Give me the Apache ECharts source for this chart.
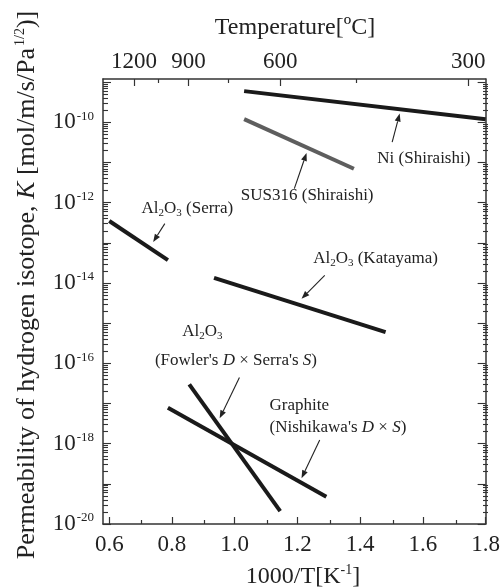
<!DOCTYPE html>
<html>
<head>
<meta charset="utf-8">
<script src="https://cdn.jsdelivr.net/npm/echarts@6/dist/echarts.min.js"></script>
<style>
  html, body { margin: 0; padding: 0; background: #fff; }
  #chart { width: 503px; height: 588px; }
</style>
</head>
<body>
<div id="chart"></div>
<script>
// x = 1000/T [1/K], K = permeability [mol/m/s/Pa^1/2]
const niX = [1.03, 1.8];
const niK = [6.0e-10, 1.2e-10];
const susX = [1.03, 1.38];
const susK = [1.2e-10, 7.0e-12];
const serraX = [0.60, 0.787];
const serraK = [3.5e-13, 3.7e-14];
const katayamaX = [0.934, 1.481];
const katayamaK = [1.35e-14, 6.0e-16];
const fowlerX = [0.855, 1.145];
const fowlerK = [3.0e-17, 2.1e-20];
const graphiteX = [0.787, 1.292];
const graphiteK = [7.8e-18, 4.8e-20];

// axes
const xMin = 0.58, xMax = 1.8;
const yMin = -20, yMax = -8.92;           // log10(K)
const xMajor = [0.6, 0.8, 1.0, 1.2, 1.4, 1.6, 1.8];
const xMinor = [0.7, 0.9, 1.1, 1.3, 1.5, 1.7];
const tempMajor = [1200, 900, 600, 300];  // degC
const tempMinor = [1050, 750, 450];
const yLabels = [-20, -18, -16, -14, -12, -10];
const yDecades = [-20, -19, -18, -17, -16, -15, -14, -13, -12, -11, -10, -9];

// annotations (data coords: x, log10 K)
const labelText = [
  'Al{s|2}O{s|3} (Serra)',
  'Al{s|2}O{s|3} (Katayama)',
  'Ni (Shiraishi)',
  'SUS316 (Shiraishi)',
  'Al{s|2}O{s|3}',
  "(Fowler's {i|D} × Serra's {i|S})",
  'Graphite',
  "(Nishikawa's {i|D} × {i|S})"
];
const labelPos = [[0.849, -12.14], [1.449, -13.38], [1.603, -10.90], [1.231, -11.82],
                  [0.833, -15.20], [1.004, -15.92], [1.111, -17.04], [1.111, -17.61]];
const labelAlign = ['center', 'center', 'center', 'center', 'left', 'center', 'left', 'left'];
const arrowFrom = [[0.777, -12.52], [1.287, -13.81], [1.502, -10.49], [1.190, -11.65], [1.015, -16.35], [1.271, -17.91]];
const arrowTo = [[0.740, -12.98], [1.213, -14.39], [1.526, -9.78], [1.229, -10.76], [0.952, -17.37], [1.213, -18.86]];

const FONT = '"Liberation Serif", "DejaVu Serif", serif';
const INK = '#222';
const AXIS = '#333';

const toX = t => 1000 / (t + 273.15);
// log-spaced minor ticks (2..9 within each decade)
const yMinorVals = [];
yDecades.forEach(d => {
  for (let k = 2; k <= 9; k++) {
    const v = d + Math.log10(k);
    if (v < yMax) yMinorVals.push(v);
  }
});

const gridBox = { left: 103, right: 15, top: 79, bottom: 64 };

function xAxisOpt(gridIndex, position, ticks, len, labels, fmt) {
  return {
    type: 'value', gridIndex, position, min: xMin, max: xMax,
    axisLine: { show: gridIndex === 0, lineStyle: { color: AXIS, width: 1.5 } },
    axisTick: { show: true, inside: true, length: len, customValues: ticks, lineStyle: { color: AXIS, width: 1.2 } },
    axisLabel: labels ? {
      show: true, customValues: labels, formatter: fmt, margin: position === 'top' ? 6 : 9,
      fontSize: 23, fontFamily: FONT, color: INK
    } : { show: false },
    splitLine: { show: false }
  };
}

function yAxisOpt(gridIndex, position, ticks, len, labels) {
  return {
    type: 'value', gridIndex, position, min: yMin, max: yMax,
    axisLine: { show: gridIndex === 0, lineStyle: { color: AXIS, width: 1.5 } },
    axisTick: { show: true, inside: true, length: len, customValues: ticks, lineStyle: { color: AXIS, width: 1.1 } },
    axisLabel: labels ? {
      show: true, customValues: labels, margin: 9,
      formatter: v => '{b|10}{s|' + Math.round(v) + '}',
      rich: {
        b: { fontSize: 23, fontFamily: FONT, color: INK },
        s: { fontSize: 13, fontFamily: FONT, color: INK, padding: [0, 0, 12, 1] }
      }
    } : { show: false },
    splitLine: { show: false }
  };
}

function lineSeries(xs, ks, color) {
  return {
    type: 'line', xAxisIndex: 0, yAxisIndex: 0, symbol: 'none',
    lineStyle: { color, width: 4, cap: 'butt' },
    data: xs.map((x, i) => [x, Math.log10(ks[i])]),
    z: 3
  };
}

const chart = echarts.init(document.getElementById('chart'), null, { renderer: 'canvas' });
chart.setOption({
  animation: false,
  backgroundColor: '#fff',
  grid: [Object.assign({}, gridBox), Object.assign({}, gridBox)],
  xAxis: [
    xAxisOpt(0, 'bottom', xMajor, 7, xMajor, v => v.toFixed(1)),
    xAxisOpt(0, 'top', tempMajor.map(toX), 7, tempMajor.map(toX), v => String(Math.round(1000 / v - 273.15))),
    xAxisOpt(1, 'bottom', xMinor, 4, null),
    xAxisOpt(1, 'top', tempMinor.map(toX), 4, null)
  ],
  yAxis: [
    yAxisOpt(0, 'left', yDecades, 8, yLabels),
    yAxisOpt(0, 'right', yDecades, 8, null),
    yAxisOpt(1, 'left', yMinorVals, 5, null),
    yAxisOpt(1, 'right', yMinorVals, 5, null)
  ],
  series: [
    lineSeries(niX, niK, '#1a1a1a'),
    lineSeries(susX, susK, '#5e5e5e'),
    lineSeries(serraX, serraK, '#1a1a1a'),
    lineSeries(katayamaX, katayamaK, '#1a1a1a'),
    lineSeries(fowlerX, fowlerK, '#1a1a1a'),
    lineSeries(graphiteX, graphiteK, '#1a1a1a')
  ]
});

// annotations and titles
const rich = {
  s: { fontSize: 11, fontFamily: FONT, fill: INK, padding: [9, 0, 0, 0] },
  i: { fontSize: 17, fontFamily: FONT, fill: INK, fontStyle: 'italic' }
};
const px = p => chart.convertToPixel({ gridIndex: 0 }, p);
const graphics = [];
labelText.forEach((t, i) => {
  const p = px(labelPos[i]);
  graphics.push({
    type: 'text', x: p[0], y: p[1], z: 10,
    style: { text: t, fill: INK, fontSize: 17, fontFamily: FONT, align: labelAlign[i], verticalAlign: 'middle', rich }
  });
});
arrowFrom.forEach((a, i) => {
  const p1 = px(a), p2 = px(arrowTo[i]);
  const dx = p2[0] - p1[0], dy = p2[1] - p1[1];
  const L = Math.hypot(dx, dy), ux = dx / L, uy = dy / L;
  const hl = 8, hw = 3;
  const bx = p2[0] - ux * hl, by = p2[1] - uy * hl;
  graphics.push({
    type: 'line', z: 10,
    shape: { x1: p1[0], y1: p1[1], x2: bx, y2: by },
    style: { stroke: INK, lineWidth: 1.1 }
  });
  graphics.push({
    type: 'polygon', z: 10,
    shape: { points: [[p2[0], p2[1]], [bx - uy * hw, by + ux * hw], [bx + uy * hw, by - ux * hw]] },
    style: { fill: INK }
  });
});
graphics.push({
  type: 'text', x: 295, y: 28,
  style: { text: 'Temperature[ºC]', fill: INK, fontSize: 24, fontFamily: FONT, align: 'center', verticalAlign: 'middle' }
});
graphics.push({
  type: 'text', x: 303, y: 577,
  style: {
    text: '1000/T[K{p|-1}]', fill: INK, fontSize: 24, fontFamily: FONT, align: 'center', verticalAlign: 'middle',
    rich: { p: { fontSize: 14, fontFamily: FONT, fill: INK, padding: [0, 0, 13, 0] } }
  }
});
graphics.push({
  type: 'text', x: 27, y: 285, rotation: Math.PI / 2,
  style: {
    text: 'Permeability of hydrogen isotope, {k|K} [mol/m/s/Pa{p|1/2})]',
    fill: INK, fontSize: 26, fontFamily: FONT, align: 'center', verticalAlign: 'middle',
    rich: {
      k: { fontSize: 26, fontFamily: FONT, fill: INK, fontStyle: 'italic' },
      p: { fontSize: 14, fontFamily: FONT, fill: INK, padding: [0, 0, 14, 2] }
    }
  }
});
chart.setOption({ graphic: graphics });
</script>
</body>
</html>
